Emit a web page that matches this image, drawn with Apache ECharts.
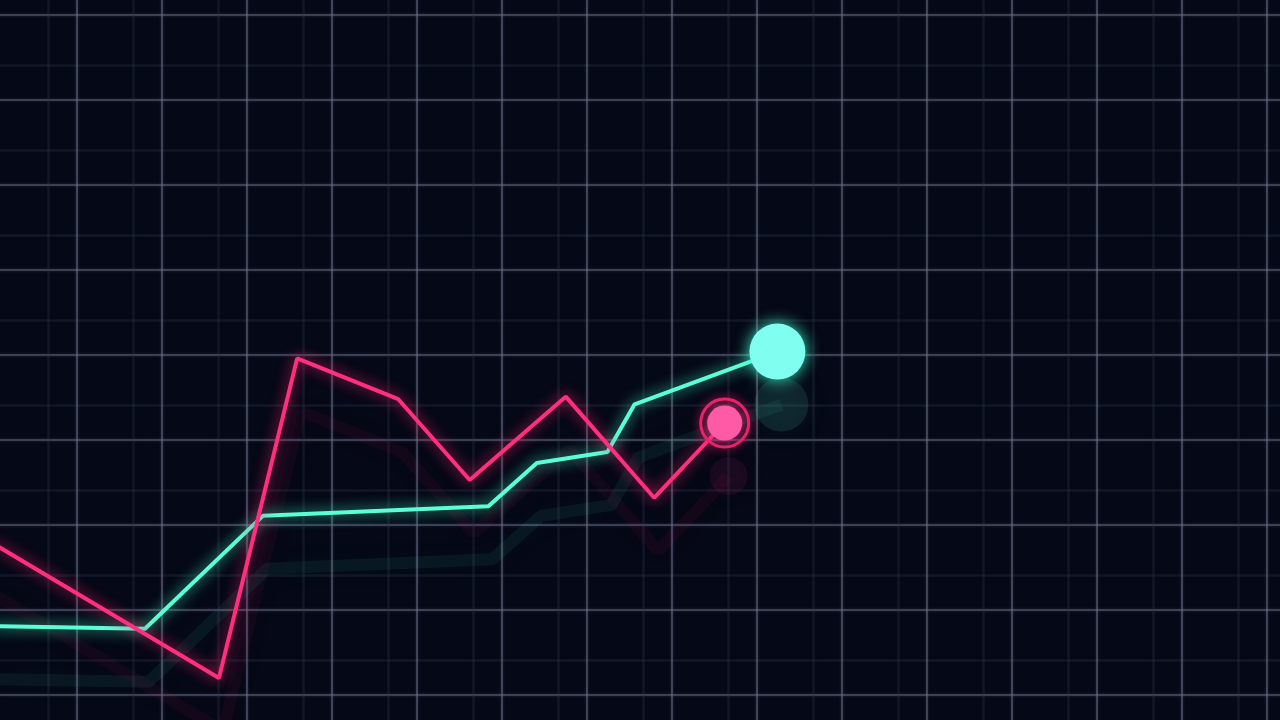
<!DOCTYPE html>
<html>
<head>
<meta charset="utf-8">
<style>
  html, body { margin: 0; padding: 0; background: #050816; }
  #chart { width: 1280px; height: 720px; }
</style>
<script src="https://cdn.jsdelivr.net/npm/echarts@6/dist/echarts.min.js"></script>
</head>
<body>
<div id="chart"></div>
<script>
// Data (x in time units, y in value units; 10 units = one grid cell)
const cyanX = [0, 18.0, 31.9, 58.4, 64.1, 72.4, 75.6, 92.4];
const cyanY = [18.1, 17.8, 31.1, 32.2, 37.3, 38.6, 44.2, 50.4];
const pinkX = [0, 26.7, 35.9, 47.8, 56.2, 67.5, 77.9, 86.2];
const pinkY = [27.9, 12.0, 49.6, 44.8, 35.3, 45.1, 33.2, 42.0];

const CYAN = '#5affd6';
const CYAN_DOT = '#80fff0';
const PINK = '#ff2f7e';
const PINK_DOT = '#ff5aa6';

function pairs(xs, ys) { return xs.map((x, i) => [x, ys[i]]); }

const cyanData = pairs(cyanX, cyanY);
const pinkData = pairs(pinkX, pinkY);
const cyanLast = [cyanData[cyanData.length - 1]];
const pinkLast = [pinkData[pinkData.length - 1]];

function axisPair(gridIndex, showSplit, splitColor, splitWidth) {
  const common = {
    gridIndex,
    type: 'value',
    axisLine: { show: false },
    axisTick: { show: false },
    axisLabel: { show: false },
    splitLine: { show: showSplit, lineStyle: { color: splitColor, width: splitWidth, shadowBlur: showSplit ? 3 : 0, shadowColor: splitColor } }
  };
  return {
    x: Object.assign({ min: 0, max: 160, interval: 10 }, common),
    y: Object.assign({ min: 0, max: 100, interval: 10 }, common)
  };
}

const gBack = axisPair(0, true, 'rgba(50,56,80,0.28)', 2.5);
const gMain = axisPair(1, true, 'rgba(112,116,142,0.6)', 1.6);
const gRefl = axisPair(2, false, 'transparent', 0);

const chart = echarts.init(document.getElementById('chart'), null, { renderer: 'canvas' });

chart.setOption({
  backgroundColor: '#050816',
  animation: false,
  grid: [
    { left: -37, top: -105, width: 1360, height: 850, outerBoundsMode: 'none' },
    { left: -8, top: -70, width: 1360, height: 850, outerBoundsMode: 'none' },
    { left: -4, top: -17, width: 1360, height: 850, outerBoundsMode: 'none' }
  ],
  xAxis: [gBack.x, gMain.x, gRefl.x],
  yAxis: [gBack.y, gMain.y, gRefl.y],
  series: [
    // reflections (blurred, offset)
    {
      type: 'line', xAxisIndex: 2, yAxisIndex: 2, data: cyanData, symbol: 'none', silent: true,
      lineStyle: { color: 'rgba(70,220,190,0.07)', width: 12, shadowBlur: 28, shadowColor: 'rgba(70,220,190,0.5)' },
      z: 1
    },
    {
      type: 'line', xAxisIndex: 2, yAxisIndex: 2, data: pinkData, symbol: 'none', silent: true,
      lineStyle: { color: 'rgba(220,40,110,0.06)', width: 12, shadowBlur: 28, shadowColor: 'rgba(220,40,110,0.45)' },
      z: 1
    },
    {
      type: 'scatter', xAxisIndex: 2, yAxisIndex: 2, data: cyanLast, symbolSize: 54, silent: true,
      itemStyle: { color: 'rgba(80,200,180,0.16)', shadowBlur: 30, shadowColor: 'rgba(80,200,180,0.5)' },
      z: 1
    },
    {
      type: 'scatter', xAxisIndex: 2, yAxisIndex: 2, data: pinkLast, symbolSize: 38, silent: true,
      itemStyle: { color: 'rgba(200,40,110,0.12)', shadowBlur: 28, shadowColor: 'rgba(200,40,110,0.45)' },
      z: 1
    },
    // main lines
    {
      type: 'line', xAxisIndex: 1, yAxisIndex: 1, data: cyanData, symbol: 'none',
      lineStyle: { color: CYAN, width: 4, shadowBlur: 14, shadowColor: 'rgba(60,255,200,0.9)' },
      z: 5
    },
    {
      type: 'line', xAxisIndex: 1, yAxisIndex: 1, data: pinkData, symbol: 'none',
      lineStyle: { color: PINK, width: 4, shadowBlur: 14, shadowColor: 'rgba(255,30,110,0.9)' },
      z: 5
    },
    // end dots
    {
      type: 'scatter', xAxisIndex: 1, yAxisIndex: 1, data: cyanLast, symbolSize: 56,
      itemStyle: { color: CYAN_DOT, opacity: 1, shadowBlur: 16, shadowColor: 'rgba(60,255,210,0.95)' },
      z: 6
    },
    {
      type: 'scatter', xAxisIndex: 1, yAxisIndex: 1, data: pinkLast, symbolSize: 48,
      itemStyle: { color: 'rgba(0,0,0,0)', opacity: 1, borderColor: '#e8226a', borderWidth: 3, shadowBlur: 10, shadowColor: 'rgba(255,30,110,0.9)' },
      z: 6
    },
    {
      type: 'scatter', xAxisIndex: 1, yAxisIndex: 1, data: pinkLast, symbolSize: 35,
      itemStyle: { color: PINK_DOT, opacity: 1, shadowBlur: 8, shadowColor: 'rgba(255,60,140,0.8)' },
      z: 7
    }
  ]
});
</script>
</body>
</html>
